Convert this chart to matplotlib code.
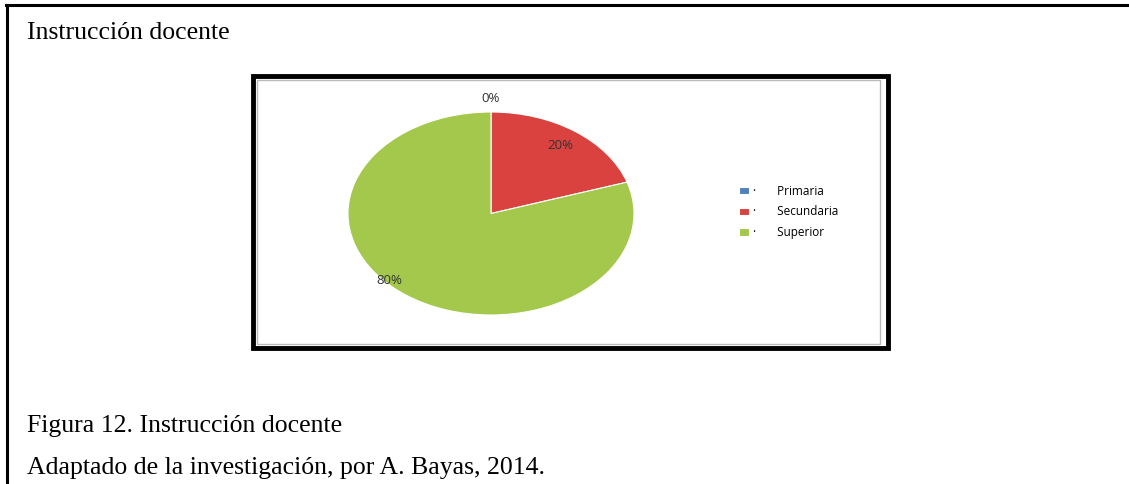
import matplotlib.pyplot as plt
from matplotlib.patches import Rectangle
from matplotlib.lines import Line2D
import numpy as np

# datos
categorias = ["Primaria", "Secundaria", "Superior"]
valores = [0, 20, 80]
colores = ["#4f81bd", "#d9423f", "#a4c84c"]

W, H = 1129, 484
fig = plt.figure(figsize=(W / 100, H / 100), dpi=100)


def fx(px):
    return px / W


def fy(py):
    return 1 - py / H


# marco exterior (solo arriba e izquierda)
fig.add_artist(Line2D([fx(6), fx(W)], [fy(5), fy(5)], color="black", lw=2.2))
fig.add_artist(Line2D([fx(6.5), fx(6.5)], [fy(5), fy(H)], color="black", lw=2.2))

serif = "Liberation Serif"
fig.text(fx(27), fy(39), "Instrucción docente", family=serif, fontsize=18.5, va="baseline")
fig.text(fx(27), fy(432), "Figura 12. Instrucción docente", family=serif, fontsize=18.5, va="baseline")
fig.text(fx(27), fy(474), "Adaptado de la investigación, por A. Bayas, 2014.", family=serif,
         fontsize=18.5, va="baseline")

# recuadro del gráfico
fig.add_artist(Rectangle((fx(253), fy(348)), fx(888 - 253), fy(76) - fy(348),
                         fill=False, ec="black", lw=3.5))
fig.add_artist(Rectangle((fx(257), fy(344)), fx(880 - 257), fy(80) - fy(344),
                         fill=False, ec="#bbbbbb", lw=1.0))

# pastel (elíptico)
ax = fig.add_axes([fx(348), fy(315), fx(634 - 348), fy(112) - fy(315)])
wedges, texts, autotexts = ax.pie(valores, colors=colores, startangle=90, counterclock=False,
                                  autopct="%1.0f%%", pctdistance=0.83,
                                  wedgeprops=dict(edgecolor="white", linewidth=0.8),
                                  textprops=dict(family="Open Sans", fontsize=9.5, color="#333333"))
ax.set_aspect("auto")
ax.set_xlim(-1, 1)
ax.set_ylim(-1, 1)

# posiciones de las etiquetas
dist = [1.13, 0.83, 0.97]
desv = [0, 0, -11]
for w, t, d, a in zip(wedges, autotexts, dist, desv):
    ang = np.deg2rad((w.theta1 + w.theta2) / 2 + a)
    t.set_position((d * np.cos(ang), d * np.sin(ang)))

# leyenda
etiquetas = ["·       " + c for c in categorias]
fig.legend(wedges, etiquetas, loc="center left", bbox_to_anchor=(fx(728), fy(212)),
           frameon=False, handlelength=0.9, handleheight=0.6, handletextpad=0.3,
           labelspacing=0.65, prop=dict(family="Open Sans", size=8.5))

fig.savefig("out.png", dpi=100)
